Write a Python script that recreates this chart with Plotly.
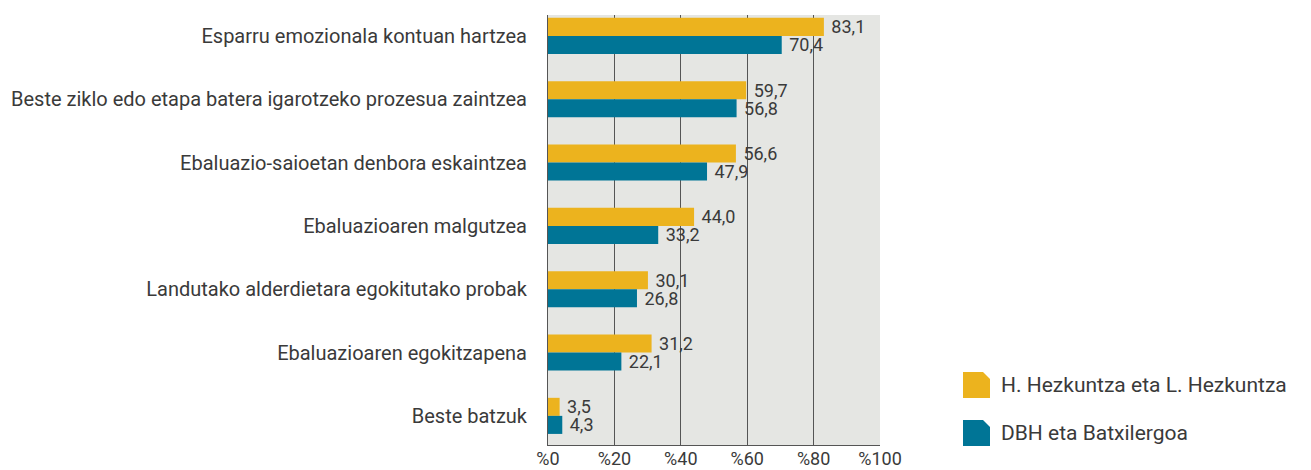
import plotly.graph_objects as go

categories = [
    "Esparru emozionala kontuan hartzea",
    "Beste ziklo edo etapa batera igarotzeko prozesua zaintzea",
    "Ebaluazio-saioetan denbora eskaintzea",
    "Ebaluazioaren malgutzea",
    "Landutako alderdietara egokitutako probak",
    "Ebaluazioaren egokitzapena",
    "Beste batzuk",
]
series_names = ["H. Hezkuntza eta L. Hezkuntza", "DBH eta Batxilergoa"]
values_hl = [83.1, 59.7, 56.6, 44.0, 30.1, 31.2, 3.5]
values_dbh = [70.4, 56.8, 47.9, 33.2, 26.8, 22.1, 4.3]
tick_vals = [0, 20, 40, 60, 80, 100]
tick_text = ["%0", "%20", "%40", "%60", "%80", "%100"]

colors = ["#ECB31E", "#007596"]
FONT = "Roboto"
TXT = "#3a3a3a"

# page has an 8px body margin; work in page coords and offset
OFF = 8
W, H = 1311 - OFF, 470 - OFF
L, R, T, B = 548 - OFF, 880 - OFF, 15 - OFF, 445 - OFF


def fmt(v):
    return "\u00a0" + f"{v:.1f}".replace(".", ",")


fig = go.Figure()
for name, vals, col in zip(series_names, [values_hl, values_dbh], colors):
    fig.add_trace(go.Bar(
        y=categories, x=vals, orientation="h", name=name,
        marker=dict(color=col, line=dict(width=0)),
        text=[fmt(v) for v in vals], textposition="outside",
        constraintext="none",
        textfont=dict(family=FONT, size=18, color=TXT),
        cliponaxis=False, showlegend=False,
    ))

fig.update_layout(
    width=W, height=H,
    margin=dict(l=L, r=W - R, t=T, b=H - B, pad=0, autoexpand=False),
    paper_bgcolor="white", plot_bgcolor="#E5E6E3",
    barmode="group", bargap=0.43, bargroupgap=0,
    font=dict(family=FONT, size=19, color=TXT),
    xaxis=dict(range=[0, 100], tickvals=tick_vals, ticktext=tick_text,
               showgrid=True, gridcolor="#555555", gridwidth=1,
               zeroline=False, showline=True, linecolor="#555555", linewidth=1,
               ticks="", ticklen=0, ticklabelstandoff=-3, automargin=False,
               tickfont=dict(family=FONT, size=18, color=TXT)),
    yaxis=dict(range=[6.46, -0.33], showgrid=False, zeroline=False,
               showline=True, linecolor="#555555", linewidth=1,
               ticks="", ticklen=0, ticklabelstandoff=16, automargin=False,
               tickfont=dict(family=FONT, size=20, color=TXT)),
)


def px(x):
    return (x - OFF - L) / (R - L)


def py(y):
    return (B - (y - OFF)) / (B - T)


legend_tops = [372, 420]
for name, col, top in zip(series_names, colors, legend_tops):
    x0, x1, y0, y1, c = 963, 990, top, top + 26, 7
    path = (f"M {px(x0)} {py(y1)} L {px(x0)} {py(y0)} L {px(x1 - c)} {py(y0)} "
            f"L {px(x1)} {py(y0 + c)} L {px(x1)} {py(y1)} Z")
    fig.add_shape(type="path", path=path, xref="paper", yref="paper",
                  fillcolor=col, line=dict(width=0))
    fig.add_annotation(x=px(999), y=py(top + 13), xref="paper", yref="paper",
                       text=name, showarrow=False, xanchor="left", yanchor="middle",
                       font=dict(family=FONT, size=21, color=TXT))

fig.write_html("out.html")
